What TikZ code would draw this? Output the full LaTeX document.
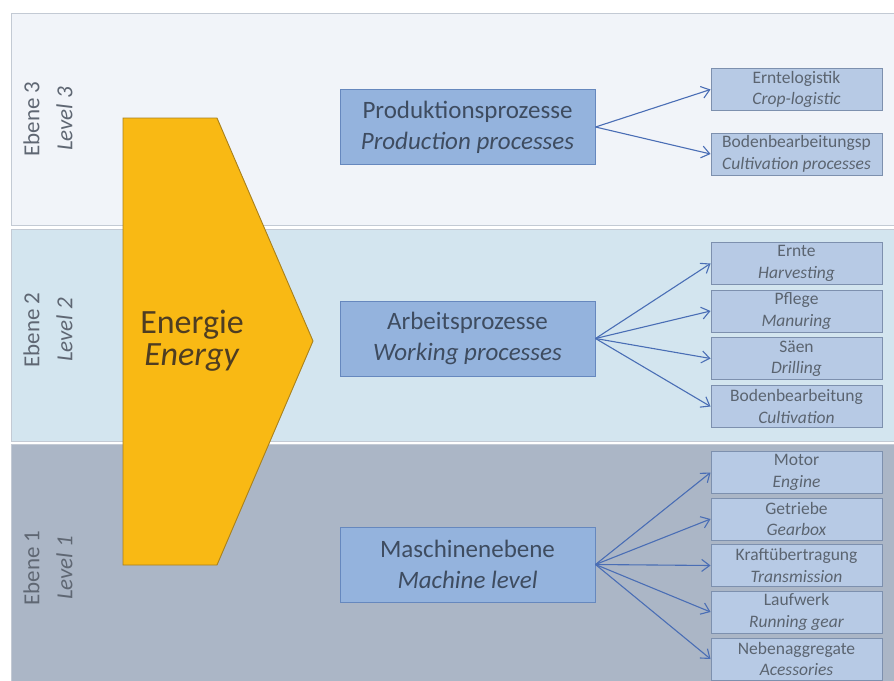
\documentclass[tikz,border=0pt]{standalone}
\usepackage{fontspec}
\setmainfont{Carlito}
\usetikzlibrary{arrows.meta}
\definecolor{bandtop}{HTML}{F1F4F9}
\definecolor{bandmid}{HTML}{D3E5EF}
\definecolor{bandlow}{HTML}{ABB6C6}
\definecolor{bandline}{HTML}{C3CAD4}
\definecolor{mainfill}{HTML}{94B3DD}
\definecolor{mainline}{HTML}{6688BE}
\definecolor{maintext}{HTML}{3E4C60}
\definecolor{subfill}{HTML}{B7CAE5}
\definecolor{subline}{HTML}{7D90AE}
\definecolor{subtext}{HTML}{5B6470}
\definecolor{energyfill}{HTML}{F9B914}
\definecolor{energyline}{HTML}{A8801C}
\definecolor{energytext}{HTML}{4E3D22}
\definecolor{labeltext}{HTML}{5F6773}
\definecolor{flowblue}{HTML}{4A6EB5}
\begin{document}
\begin{tikzpicture}[x = 1pt, y = -1pt,
        band/.style = {draw = bandline, line width = .8pt},
        levellabel/.style = {rotate = 90, text = labeltext, align = center, font = \fontsize{23}{33}\selectfont},
        mainbox/.style = {draw = mainline, fill = mainfill, line width = 1pt, minimum width = 255pt, minimum height = 75pt, align = center, text = maintext, font = \fontsize{25}{31}\selectfont},
        subbox/.style = {draw = subline, fill = subfill, line width = .9pt, minimum width = 171pt, minimum height = 42pt, inner sep = 0pt, align = center, text = subtext, font = \fontsize{17.5}{21.5}\selectfont},
        flow/.style = {draw = flowblue, line width = 1.1pt, -{Straight Barb[length = 8pt, width = 12pt]}}]
        \useasboundingbox (0,0) rectangle (894,680);
        \begin{scope}
            \filldraw[band, fill = bandtop] (11,13) rectangle (900,225);
            \filldraw[band, fill = bandmid] (11,229) rectangle (900,441);
            \filldraw[band, fill = bandlow] (11,444) rectangle (900,690);
        \end{scope}
        \node[levellabel] (lvl3) at (48,119) {Ebene 3\\\textit{Level 3}};
        \node[levellabel] (lvl2) at (48,330) {Ebene 2\\\textit{Level 2}};
        \node[levellabel] (lvl1) at (48,568) {Ebene 1\\\textit{Level 1}};
        \begin{scope}
            \filldraw[draw = energyline, fill = energyfill, line width = .9pt]
                (123,118) -- (217,118) -- (313,341) -- (217,565) -- (123,565) -- cycle;
            \node[text = energytext, align = center, font = \fontsize{34}{32}\selectfont] (energy) at (192,341) {Energie\\\textit{Energy}};
        \end{scope}
        \node[mainbox] (prod) at (467.5,127) {Produktionsprozesse\\\textit{Production processes}};
        \node[mainbox] (work) at (467.5,338.5) {Arbeitsprozesse\\\textit{Working processes}};
        \node[mainbox] (machine) at (467.5,564.5) {Maschinenebene\\\textit{Machine level}};
        \foreach \name/\y/\de/\en in {logistic/89.5/Erntelogistik/Crop-logistic,
                cultproc/154/Bodenbearbeitungsp/Cultivation processes}
            {\node[subbox] (\name) at (796.5,\y) {\de\\\textit{\en}};
             \draw[flow] (prod.east) -- (\name.west);}
        \foreach \name/\y/\de/\en in {harvest/263.5/Ernte/Harvesting, manure/311/Pflege/Manuring,
                drill/358.5/Säen/Drilling, cultivate/406.5/Bodenbearbeitung/Cultivation}
            {\node[subbox] (\name) at (796.5,\y) {\de\\\textit{\en}};
             \draw[flow] (work.east) -- (\name.west);}
        \foreach \name/\y/\de/\en in {engine/472.5/Motor/Engine, gearbox/519/Getriebe/Gearbox,
                transmission/565.5/Kraftübertragung/Transmission, runninggear/612/Laufwerk/Running gear,
                accessory/659/Nebenaggregate/Acessories}
            {\node[subbox] (\name) at (796.5,\y) {\de\\\textit{\en}};
             \draw[flow] (machine.east) -- (\name.west);}
    \end{tikzpicture}
\end{document}
